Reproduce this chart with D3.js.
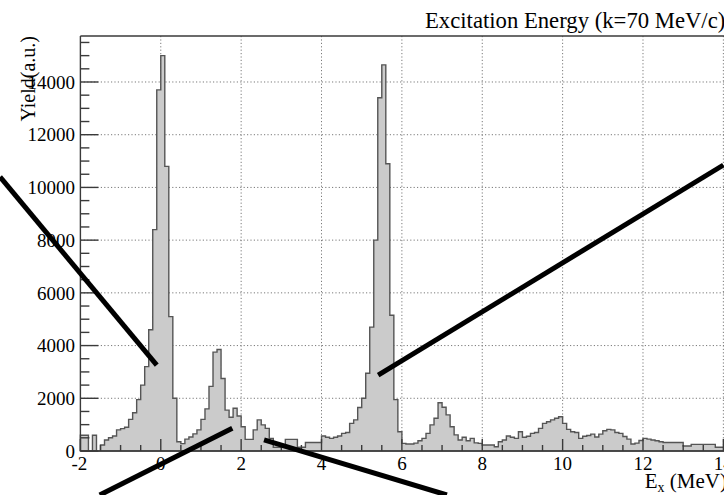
<!DOCTYPE html>
<html>
<head>
<meta charset="utf-8">
<script src="https://cdn.jsdelivr.net/npm/d3@7"></script>
<style>
  body { margin: 0; background: #fff; }
  text { font-family: "Liberation Serif", "DejaVu Serif", serif; fill: #000; }
</style>
</head>
<body>
<svg id="chart" width="724" height="495"></svg>
<script>
// histogram: bins of 0.1 MeV starting at -2 MeV
var binStart = -2.0, binWidth = 0.1;
var counts = [
  600, 600, 0, 600, 0, 230, 420, 500, 570, 800,            // -2.0 .. -1.1
  850, 900, 1200, 1450, 1950, 2500, 3200, 4600, 8400, 13700, // -1.0 .. -0.1
  15000, 10800, 5100, 2000, 350, 280, 450, 530, 650, 800,    // 0.0 .. 0.9
  1200, 1600, 2450, 3750, 3850, 2750, 1550, 1280, 1620, 1330, // 1.0 .. 1.9
  920, 440, 440, 800, 1180, 990, 860, 480, 140, 140,         // 2.0 .. 2.9
  140, 440, 440, 440, 140, 140, 320, 320, 320, 320,          // 3.0 .. 3.9
  570, 520, 480, 520, 570, 670, 700, 1050, 1180, 1650,       // 4.0 .. 4.9
  2000, 2950, 4700, 8000, 13400, 14650, 10900, 5150, 1950, 730, // 5.0 .. 5.9
  290, 265, 265, 300, 390, 480, 670, 990, 1240, 1830,        // 6.0 .. 6.9
  1660, 1370, 920, 610, 420, 520, 390, 480, 310, 290,        // 7.0 .. 7.9
  230, 230, 230, 160, 350, 420, 570, 520, 480, 730,          // 8.0 .. 8.9
  520, 560, 670, 700, 860, 1050, 1110, 1180, 1240, 1300,     // 9.0 .. 9.9
  1050, 820, 730, 700, 480, 560, 590, 640, 530, 640,         // 10.0 .. 10.9
  770, 820, 800, 700, 670, 550, 450, 265, 300, 400,          // 11.0 .. 11.9
  480, 450, 420, 390, 350, 320, 320, 320, 320, 320,          // 12.0 .. 12.9
  190, 190, 250, 250, 250, 250, 250, 250, 140, 140,          // 13.0 .. 13.9
  140, 140                                                   // 14.0 .. 14.1
];

var xTicksMajor = [-2, 0, 2, 4, 6, 8, 10, 12, 14];
var yTicksMajor = [0, 2000, 4000, 6000, 8000, 10000, 12000, 14000];

// overlaid black pointer lines, as [E, yield] end points
var pointerA = [[-4.0, 10400], [-0.1, 3260]];
var pointerB = [[-1.52, -1670], [1.78, 860]];
var pointerC = [[2.57, 420], [7.12, -1670]];
var pointerD = [[5.41, 2880], [14.0, 10850]];

var titleText = "Excitation Energy (k=70 MeV/c)";
var yTitle = "Yield(a.u.)";

var svg = d3.select("#chart");
var plotL = 80.4, plotR = 731.4, plotT = 36, plotB = 451;

var x = d3.scaleLinear().domain([-2, 14.2]).range([plotL, plotR]);
var y = d3.scaleLinear().domain([0, 15745]).range([plotB, plotT]);

svg.append("rect").attr("width", 724).attr("height", 495).attr("fill", "#fff");

// grid (dotted)
var grid = svg.append("g").attr("stroke", "#7a7a7a").attr("stroke-width", 1)
  .attr("stroke-dasharray", "1.2,2.2");
grid.selectAll("line.gx").data(xTicksMajor.filter(function (d) { return d > -2; }))
  .enter().append("line")
  .attr("x1", function (d) { return x(d); }).attr("x2", function (d) { return x(d); })
  .attr("y1", plotT).attr("y2", plotB);
grid.selectAll("line.gy").data(yTicksMajor.filter(function (d) { return d > 0; }))
  .enter().append("line")
  .attr("x1", plotL).attr("x2", plotR)
  .attr("y1", function (d) { return y(d); }).attr("y2", function (d) { return y(d); });

// histogram
var pts = counts.map(function (c, i) { return [binStart + i * binWidth, c]; });
pts.push([binStart + counts.length * binWidth, counts[counts.length - 1]]);

var area = d3.area()
  .x(function (d) { return x(d[0]); })
  .y0(y(0))
  .y1(function (d) { return y(d[1]); })
  .curve(d3.curveStepAfter);

svg.append("path").datum(pts)
  .attr("d", area)
  .attr("fill", "#cbcbcb")
  .attr("stroke", "#555")
  .attr("stroke-width", 1.4)
  .attr("stroke-linejoin", "miter");

// axes by hand, ROOT style (ticks inside)
var axis = svg.append("g").attr("stroke", "#3a3a3a").attr("stroke-width", 1.4);
axis.append("line").attr("x1", plotL).attr("x2", 724).attr("y1", plotT).attr("y2", plotT);
axis.append("line").attr("x1", plotL).attr("x2", plotL).attr("y1", plotT).attr("y2", plotB);
axis.append("line").attr("x1", plotL).attr("x2", 724).attr("y1", plotB).attr("y2", plotB);

var xMinor = d3.range(-2, 14.01, 0.5);
axis.selectAll("line.xt").data(xMinor).enter().append("line")
  .attr("x1", function (d) { return x(d); }).attr("x2", function (d) { return x(d); })
  .attr("y1", plotB)
  .attr("y2", function (d) { return plotB - (Math.abs(d % 2) < 1e-6 ? 12 : 6); });

var yMinor = d3.range(0, 15501, 500);
axis.selectAll("line.yt").data(yMinor).enter().append("line")
  .attr("x1", plotL)
  .attr("x2", function (d) { return plotL + (d % 2000 === 0 ? 18 : 9); })
  .attr("y1", function (d) { return y(d); }).attr("y2", function (d) { return y(d); });

// tick labels
svg.selectAll("text.xl").data(xTicksMajor).enter().append("text")
  .attr("x", function (d) { return x(d) + (d < 0 ? -1 : 0); })
  .attr("y", 470)
  .attr("text-anchor", "middle")
  .attr("font-size", 19)
  .text(function (d) { return d; });

svg.selectAll("text.yl").data(yTicksMajor).enter().append("text")
  .attr("x", 75)
  .attr("y", function (d) { return y(d); })
  .attr("dy", "0.35em")
  .attr("text-anchor", "end")
  .attr("font-size", 19)
  .text(function (d) { return d; });

// titles
svg.append("text").attr("x", 425).attr("y", 28).attr("font-size", 22.7).text(titleText);

var xt = svg.append("text").attr("x", 727).attr("y", 488)
  .attr("text-anchor", "end").attr("font-size", 21);
xt.append("tspan").text("E");
xt.append("tspan").attr("font-size", 14).attr("dy", 4).text("x");
xt.append("tspan").attr("dy", -4).text(" (MeV)");

svg.append("text")
  .attr("transform", "translate(35," + plotT + ") rotate(-90)")
  .attr("text-anchor", "end")
  .attr("font-size", 20)
  .text(yTitle);

// black pointer lines
var line = d3.line().x(function (d) { return x(d[0]); }).y(function (d) { return y(d[1]); });
[pointerA, pointerB, pointerC, pointerD].forEach(function (p) {
  svg.append("path").datum(p).attr("d", line)
    .attr("stroke", "#000").attr("stroke-width", 5).attr("fill", "none");
});
</script>
</body>
</html>
